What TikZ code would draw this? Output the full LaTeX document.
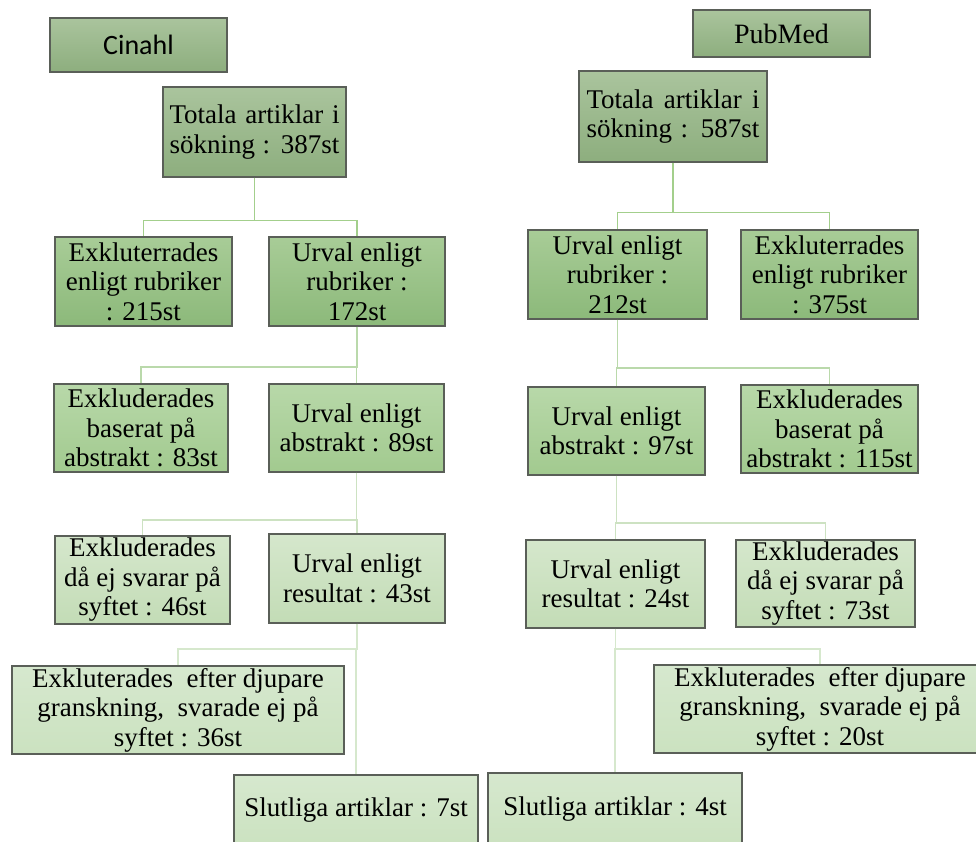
\documentclass[tikz,border=0pt]{standalone}
\usepackage{fontspec}
\setmainfont{Liberation Serif}
\newfontfamily\calibrifont{Carlito}
\definecolor{boxline}{HTML}{5A5F58}
\definecolor{lAt}{HTML}{AAC49D}\definecolor{lAb}{HTML}{8DAE7E}
\definecolor{lBt}{HTML}{A8CC97}\definecolor{lBb}{HTML}{8CB97A}
\definecolor{lCt}{HTML}{B8D8A9}\definecolor{lCb}{HTML}{A2CA8F}
\definecolor{lDt}{HTML}{D5E7CC}\definecolor{lDb}{HTML}{C3DCB6}
\definecolor{lEt}{HTML}{D6E8CE}\definecolor{lEb}{HTML}{CBE2C0}
\definecolor{cA}{HTML}{A3CF8C}
\definecolor{cB}{HTML}{BAD9AB}
\definecolor{cC}{HTML}{CDE2C2}
\definecolor{cD}{HTML}{D6E8CD}
\begin{document}
\begin{tikzpicture}[x=1pt,y=-1pt,
  box/.style={draw=boxline, line width=1.2pt, inner sep=0pt, align=center,
    font=\fontsize{27}{29.5}\selectfont, text=black},
  lvA/.style={box, top color=lAt, bottom color=lAb},
  lvB/.style={box, top color=lBt, bottom color=lBb},
  lvC/.style={box, top color=lCt, bottom color=lCb},
  lvD/.style={box, top color=lDt, bottom color=lDb},
  lvE/.style={box, top color=lEt, bottom color=lEb},
  conA/.style={draw=cA, line width=1.8pt},
  conB/.style={draw=cB, line width=1.8pt},
  conC/.style={draw=cC, line width=1.8pt},
  conD/.style={draw=cD, line width=1.8pt}]
\useasboundingbox (0,0) rectangle (976,842);
\clip (0,0) rectangle (976,842);
\fill[white] (0,0) rectangle (976,842);

% ---------- Cinahl (left) ----------
\node[lvA, minimum width=177pt, minimum height=54pt] (cin) at (138.5,45) {\calibrifont\fontsize{28}{30}\selectfont Cinahl};
\node[lvA, minimum width=183pt, minimum height=90pt] (totL) at (254.5,132)
  {\makebox[170pt][s]{Totala artiklar i}\\\makebox[170pt][s]{sökning : 387st}};
\node[lvB, minimum width=177pt, minimum height=89pt] (exRubL) at (143.5,281.5) {Exkluterrades\\enligt rubriker\\: 215st};
\node[lvB, minimum width=176pt, minimum height=89pt] (urRubL) at (357,281.5) {Urval enligt\\rubriker :\\172st};
\node[lvC, minimum width=174pt, minimum height=88pt] (exAbsL) at (141,428) {Exkluderades\\baserat på\\abstrakt : 83st};
\node[lvC, minimum width=175pt, minimum height=88pt] (urAbsL) at (356.5,428) {Urval enligt\\abstrakt : 89st};
\node[lvD, minimum width=175pt, minimum height=88pt] (exSyfL) at (142.5,580) {Exkluderades\\då ej svarar på\\syftet : 46st};
\node[lvD, minimum width=176pt, minimum height=89pt] (urResL) at (357,578.5) {Urval enligt\\resultat : 43st};
\node[lvE, minimum width=332pt, minimum height=88pt] (exDjL) at (178,710) {Exkluterades \ efter djupare\\granskning, \ svarade ej på\\syftet : 36st};
\node[lvE, minimum width=244pt, minimum height=71pt] (slutL) at (356,810.5) {Slutliga artiklar : 7st};

% ---------- PubMed (right) ----------
\node[lvA, minimum width=177pt, minimum height=47pt] (pub) at (781.5,33.5) {\fontsize{28}{30}\selectfont PubMed};
\node[lvA, minimum width=188pt, minimum height=91pt] (totR) at (673,116.5)
  {\makebox[173pt][s]{Totala artiklar i}\\\makebox[173pt][s]{sökning : 587st}};
\node[lvB, minimum width=179pt, minimum height=89pt] (urRubR) at (617.5,274.5) {Urval enligt\\rubriker :\\212st};
\node[lvB, minimum width=177pt, minimum height=89pt] (exRubR) at (829.5,274.5) {Exkluterrades\\enligt rubriker\\: 375st};
\node[lvC, minimum width=177pt, minimum height=88pt] (urAbsR) at (616.5,431) {Urval enligt\\abstrakt : 97st};
\node[lvC, minimum width=177pt, minimum height=88pt] (exAbsR) at (829.5,429) {Exkluderades\\baserat på\\abstrakt : 115st};
\node[lvD, minimum width=179pt, minimum height=88pt] (urResR) at (615.5,584) {Urval enligt\\resultat : 24st};
\node[lvD, minimum width=179pt, minimum height=87pt] (exSyfR) at (825.5,583.5) {Exkluderades\\då ej svarar på\\syftet : 73st};
\node[lvE, minimum width=332pt, minimum height=88pt] (exDjR) at (820,709) {Exkluterades \ efter djupare\\granskning, \ svarade ej på\\syftet : 20st};
\node[lvE, minimum width=254pt, minimum height=73pt] (slutR) at (615,809.5) {Slutliga artiklar : 4st};

% ---------- connectors left ----------
\draw[conA] (totL.south) -- ++(0,43) coordinate (jL1) -| (exRubL.north);
\draw[conA] (jL1) -| (urRubL.north);
\draw[conB] (urRubL.south) -- ++(0,40) coordinate (jL2) -| (exAbsL.north);
\draw[conB] (jL2) -| (urAbsL.north);
\draw[conC] (urAbsL.south) -- ++(0,47) coordinate (jL3) -| (exSyfL.north);
\draw[conC] (jL3) -| (urResL.north);
\draw[conD] (urResL.south) -- ++(0,25) coordinate (jL4) -| (exDjL.north);
\draw[conD] (jL4) -| (slutL.north);

% ---------- connectors right ----------
\draw[conA] (totR.south) -- ++(0,50) coordinate (jR1) -| (urRubR.north);
\draw[conA] (jR1) -| (exRubR.north);
\draw[conB] (urRubR.south) -- ++(0,48) coordinate (jR2) -| (exAbsR.north);
\draw[conB] (jR2) -| (urAbsR.north);
\draw[conC] (urAbsR.south) -- ++(0,47) coordinate (jR3) -| (exSyfR.north);
\draw[conC] (jR3) -| (urResR.north);
\draw[conD] (urResR.south) -- ++(0,20) coordinate (jR4) -| (exDjR.north);
\draw[conD] (jR4) -| (slutR.north);
\end{tikzpicture}
\end{document}
